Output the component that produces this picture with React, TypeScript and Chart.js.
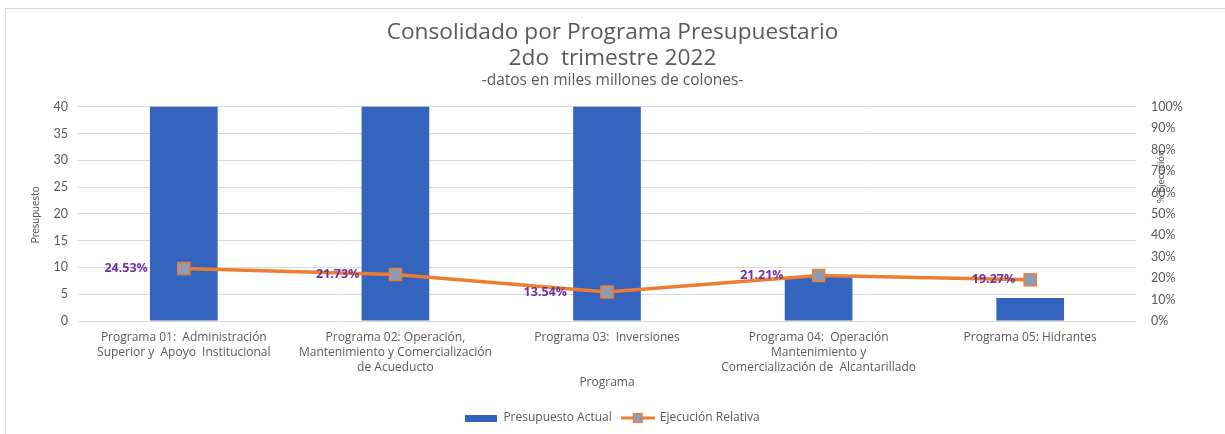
import React, { useEffect, useRef } from 'react';
import { Chart, registerables } from 'chart.js';

Chart.register(...registerables);

const categories: (string | string[])[] = [
  ['Programa 01:  Administración', 'Superior y  Apoyo  Institucional'],
  ['Programa 02: Operación,', 'Mantenimiento y Comercialización', 'de Acueducto'],
  'Programa 03:  Inversiones',
  ['Programa 04:  Operación', 'Mantenimiento y', 'Comercialización de  Alcantarillado'],
  'Programa 05: Hidrantes',
];

// Presupuesto actual (miles de millones de colones); the first three exceed the 40 axis limit
const presupuestoActual = [58.6, 121.4, 74.2, 8.2, 4.3];
// Ejecución relativa (%)
const ejecucionRelativa = [24.53, 21.73, 13.54, 21.21, 19.27];

const leftAxisMax = 40;
const leftAxisStep = 5;
const rightAxisMax = 100;
const rightAxisStep = 10;

const titleLines = ['Consolidado por Programa Presupuestario', '2do  trimestre 2022'];
const subtitleText = '-datos en miles millones de colones-';
const legendLabels = ['Presupuesto Actual', 'Ejecución Relativa'];
const xAxisTitle = 'Programa';
const leftAxisTitle = 'Presupuesto';
const rightAxisTitle = '% Ejecución';

const FONT = '"Open Sans"';
const TICKFONT = 'Lato';
const TEXT = '#595959';
const BAR = '#3564BF';
const LINE = '#ED7D31';
const MARKER = '#8C9DB5';
const LABEL = '#7030A0';
const labelOffsets = [36, 36, 40, 35, 15];

export default function App() {
  const ref = useRef<HTMLCanvasElement | null>(null);

  useEffect(() => {
    if (!ref.current) return;

    const barIcon = document.createElement('canvas');
    barIcon.width = 32;
    barIcon.height = 7;
    {
      const c = barIcon.getContext('2d')!;
      c.fillStyle = BAR;
      c.fillRect(0, 0, 32, 7);
    }
    const lineIcon = document.createElement('canvas');
    lineIcon.width = 34;
    lineIcon.height = 12;
    {
      const c = lineIcon.getContext('2d')!;
      c.strokeStyle = LINE;
      c.lineWidth = 3;
      c.beginPath();
      c.moveTo(0, 6);
      c.lineTo(34, 6);
      c.stroke();
      c.fillStyle = MARKER;
      c.fillRect(12.5, 1.5, 9, 9);
      c.strokeStyle = LINE;
      c.lineWidth = 1.2;
      c.strokeRect(12.5, 1.5, 9, 9);
    }

    const overlay = {
      id: 'overlay',
      afterDraw(chart: any) {
        const { ctx, chartArea } = chart;
        ctx.save();
        const meta = chart.getDatasetMeta(1);
        ctx.font = `bold 12.5px ${FONT}`;
        ctx.fillStyle = LABEL;
        ctx.textAlign = 'right';
        ctx.textBaseline = 'middle';
        meta.data.forEach((pt: any, i: number) => {
          ctx.fillText(ejecucionRelativa[i].toFixed(2) + '%', pt.x - labelOffsets[i], pt.y);
        });

        ctx.fillStyle = TEXT;
        ctx.textAlign = 'center';
        ctx.font = `12px ${FONT}`;
        ctx.fillText(xAxisTitle, (chartArea.left + chartArea.right) / 2, chartArea.bottom + 62);

        ctx.save();
        ctx.font = `10.5px ${TICKFONT}`;
        ctx.translate(chartArea.left - 42, (chartArea.top + chartArea.bottom) / 2 + 1);
        ctx.rotate(-Math.PI / 2);
        ctx.fillText(leftAxisTitle, 0, 0);
        ctx.restore();

        ctx.save();
        ctx.font = `10px ${TICKFONT}`;
        ctx.translate(chartArea.right + 25, chartArea.top + 70);
        ctx.rotate(-Math.PI / 2);
        ctx.fillText(rightAxisTitle, 0, 0);
        ctx.restore();

        ctx.restore();
      },
    };

    const chart = new Chart(ref.current, {
      type: 'bar',
      data: {
        labels: categories,
        datasets: [
          {
            type: 'bar',
            label: legendLabels[0],
            data: presupuestoActual,
            backgroundColor: BAR,
            yAxisID: 'y',
            barPercentage: 0.32,
            categoryPercentage: 1,
            order: 1,
          },
          {
            type: 'line',
            label: legendLabels[1],
            data: ejecucionRelativa,
            borderColor: LINE,
            borderWidth: 3.5,
            backgroundColor: MARKER,
            pointStyle: 'rect',
            pointRadius: 8.5,
            pointBorderColor: LINE,
            pointBackgroundColor: MARKER,
            pointBorderWidth: 1.5,
            yAxisID: 'y1',
            tension: 0,
            order: 0,
          } as any,
        ],
      },
      options: {
        animation: false,
        responsive: true,
        maintainAspectRatio: false,
        layout: { padding: { left: 0, right: 0, top: 0, bottom: 0 } },
        plugins: {
          tooltip: { enabled: false },
          title: {
            display: true,
            text: titleLines,
            color: TEXT,
            font: { family: FONT, size: 22.7, weight: 'normal', lineHeight: 1.15 },
            padding: { top: 19, bottom: 0 },
          },
          subtitle: {
            display: true,
            text: subtitleText,
            color: TEXT,
            font: { family: FONT, size: 15.5, weight: 'normal' },
            padding: { top: 0, bottom: 17 },
          },
          legend: {
            position: 'bottom',
            labels: {
              color: TEXT,
              font: { family: FONT, size: 12 },
              usePointStyle: true,
              pointStyleWidth: 32,
              boxHeight: 12,
              padding: 10,
              generateLabels: () => [
                {
                  text: legendLabels[0],
                  pointStyle: barIcon as any,
                  fillStyle: BAR,
                  strokeStyle: BAR,
                  lineWidth: 0,
                  fontColor: TEXT,
                  hidden: false,
                  datasetIndex: 0,
                },
                {
                  text: legendLabels[1],
                  pointStyle: lineIcon as any,
                  fillStyle: MARKER,
                  strokeStyle: LINE,
                  lineWidth: 0,
                  fontColor: TEXT,
                  hidden: false,
                  datasetIndex: 1,
                },
              ],
            },
          },
        },
        scales: {
          x: {
            grid: { display: false, drawTicks: false },
            border: { display: false },
            ticks: {
              color: TEXT,
              font: { family: FONT, size: 12, lineHeight: 1.25 },
              autoSkip: false,
              maxRotation: 0,
              minRotation: 0,
              padding: 9,
            },
            afterFit: (s: any) => {
              s.height = 81;
            },
          },
          y: {
            position: 'left',
            min: 0,
            max: leftAxisMax,
            ticks: { stepSize: leftAxisStep, color: TEXT, font: { family: TICKFONT, size: 12.5 }, padding: 10 },
            grid: { color: '#D9D9D9', drawTicks: false },
            border: { display: false },
            afterFit: (s: any) => {
              s.width = 78;
            },
          },
          y1: {
            position: 'right',
            min: 0,
            max: rightAxisMax,
            ticks: {
              stepSize: rightAxisStep,
              color: TEXT,
              font: { family: TICKFONT, size: 12.5 },
              padding: 15,
              callback: (v: any) => v + '%',
            },
            grid: { display: false, drawTicks: false },
            border: { display: false },
            afterFit: (s: any) => {
              s.width = 89;
            },
          },
        },
      },
      plugins: [overlay],
    });

    return () => chart.destroy();
  }, []);

  return (
    <div style={{ position: 'absolute', left: 0, top: 0, width: 1225, height: 434, background: '#fff' }}>
      <div
        style={{
          position: 'absolute',
          left: 5,
          top: 8,
          width: 1220,
          height: 426,
          borderLeft: '1px solid #D9D9D9',
          borderTop: '1px solid #D9D9D9',
        }}
      />
      <canvas ref={ref} style={{ position: 'absolute', left: 0, top: 0 }} />
    </div>
  );
}
